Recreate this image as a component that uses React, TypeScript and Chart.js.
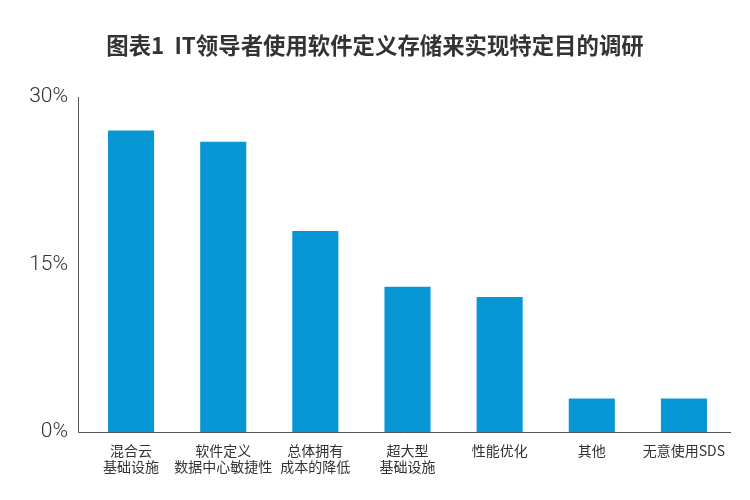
import React, { useEffect, useRef } from "react";
import { Chart, registerables } from "chart.js";

Chart.register(...registerables);

const titleText = "图表1  IT领导者使用软件定义存储来实现特定目的调研";
const categories: (string | string[])[] = [
  ["混合云", "基础设施"],
  ["软件定义", "数据中心敏捷性"],
  ["总体拥有", "成本的降低"],
  ["超大型", "基础设施"],
  "性能优化",
  "其他",
  "无意使用SDS",
];
const values = [27, 26, 18, 13, 12.1, 3, 3];
const yTicks = [0, 15, 30];

const axisLines = {
  id: "axisLines",
  afterDatasetsDraw(chart: any) {
    const { ctx, chartArea } = chart;
    const x0 = chartArea.left - 7;
    ctx.save();
    ctx.strokeStyle = "#555";
    ctx.lineWidth = 1;
    ctx.beginPath();
    ctx.moveTo(x0 + 0.5, chartArea.top);
    ctx.lineTo(x0 + 0.5, chartArea.bottom + 0.5);
    ctx.lineTo(chartArea.right + 1, chartArea.bottom + 0.5);
    ctx.stroke();
    ctx.restore();
  },
};

export default function App() {
  const ref = useRef<HTMLCanvasElement>(null);
  useEffect(() => {
    if (!ref.current) return;
    const chart = new Chart(ref.current, {
      type: "bar",
      data: {
        labels: categories,
        datasets: [
          {
            data: values,
            backgroundColor: "#0897d5",
            barPercentage: 0.5,
            categoryPercentage: 1,
          },
        ],
      },
      options: {
        animation: false,
        responsive: false,
        layout: { padding: { left: 20, right: 20, top: 0, bottom: 0 } },
        plugins: {
          legend: { display: false },
          tooltip: { enabled: false },
          title: {
            display: true,
            text: titleText,
            color: "#333",
            font: { family: "'Noto Sans CJK SC', sans-serif", size: 22.4, weight: "bold", lineHeight: 1.2 },
            padding: { top: 32, bottom: 38.1 },
          },
        },
        scales: {
          x: {
            grid: { display: false, drawTicks: false },
            border: { display: false },
            ticks: {
              color: "#333",
              padding: 11,
              maxRotation: 0,
              autoSkip: false,
              font: { family: "'Noto Sans CJK SC', sans-serif", size: 14, lineHeight: 1.15 },
            },
            afterFit: (s: any) => {
              s.height = 68;
            },
          },
          y: {
            min: 0,
            max: 30,
            grid: { display: false, drawTicks: false },
            border: { display: false },
            afterBuildTicks: (s: any) => {
              s.ticks = yTicks.map((v) => ({ value: v }));
            },
            ticks: {
              color: "#333",
              padding: 17,
              font: { family: "Roboto, 'Liberation Sans', sans-serif", size: 21, weight: "300" },
              callback: (v: any) => v + "%",
            },
            afterFit: (s: any) => {
              s.width = 65;
            },
          },
        },
      },
      plugins: [axisLines],
    });
    return () => chart.destroy();
  }, []);
  return (
    <div style={{ position: "fixed", left: 0, top: 0, width: 750, height: 500, background: "#fff" }}>
      <canvas ref={ref} width={750} height={500} />
    </div>
  );
}
